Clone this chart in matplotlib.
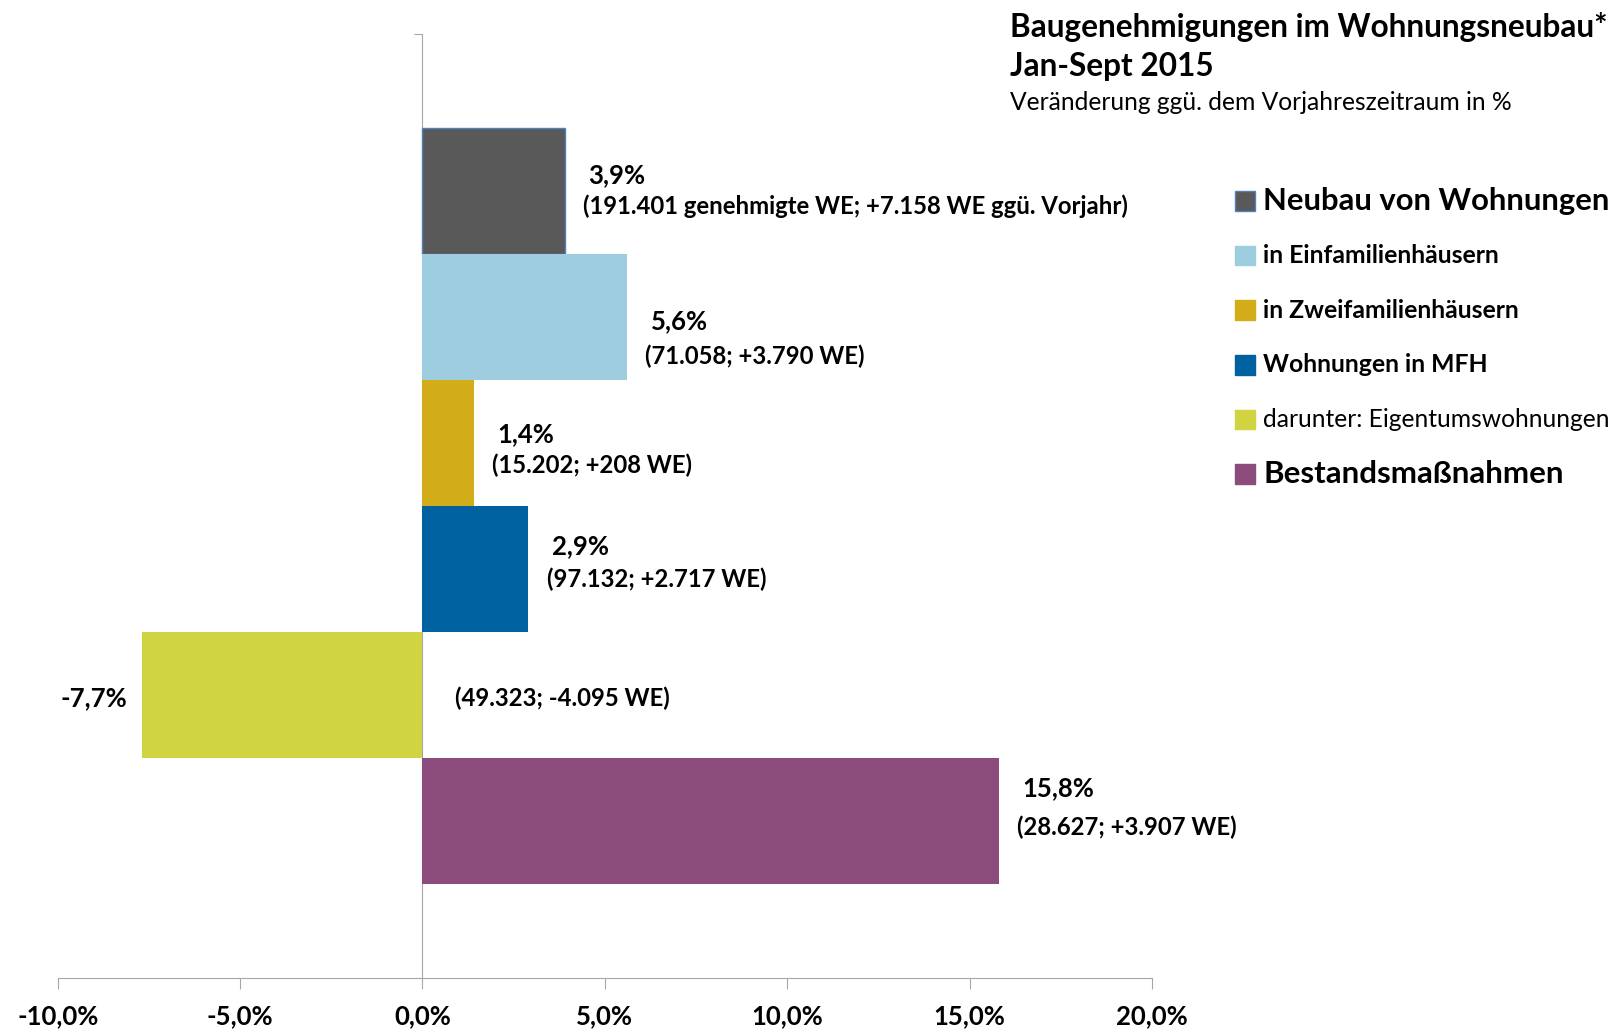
import matplotlib.pyplot as plt
from matplotlib.patches import Rectangle
from matplotlib.ticker import FuncFormatter, MultipleLocator

# Daten: Veränderung ggü. Vorjahreszeitraum in %
categories = ["Neubau von Wohnungen", "in Einfamilienhäusern", "in Zweifamilienhäusern",
              "Wohnungen in MFH", "darunter: Eigentumswohnungen", "Bestandsmaßnahmen"]
changes = [3.9, 5.6, 1.4, 2.9, -7.7, 15.8]
details = ["(191.401 genehmigte WE; +7.158 WE ggü. Vorjahr)", "(71.058; +3.790 WE)",
           "(15.202; +208 WE)", "(97.132; +2.717 WE)", "(49.323; -4.095 WE)",
           "(28.627; +3.907 WE)"]
colors = ["#595959", "#9fcde0", "#d3ac19", "#0061a0", "#cfd440", "#8b4c7c"]

# Stil der Beschriftungen (Legende)
legend_size = [22.3, 17.8, 17.8, 17.8, 17.7, 22.5]
legend_weight = ["bold", "bold", "bold", "bold", "normal", "bold"]
# vertikale Verschiebung der Wertelabels (Zeile 1 / Zeile 2)
dy1 = [0.13, -0.03, 0.07, 0.18, -0.03, 0.26]
dy2 = [-0.12, -0.31, -0.18, -0.08, -0.03, -0.05]

plt.rcParams['font.family'] = ['Lato', 'DejaVu Sans']

fig = plt.figure(figsize=(16.16, 10.30), dpi=100)
ax = fig.add_axes([0.0357, 0.0505, 0.6772, 0.9165])

ypos = list(range(len(categories) - 1, -1, -1))
bars = ax.barh(ypos, changes, height=1.0, color=colors, zorder=2)
bars[0].set_edgecolor("#4f81bd")
bars[0].set_linewidth(1.0)

ax.set_xlim(-10, 20)
ax.set_ylim(-1.25, 6.25)

# Achsen wie in Excel
for s in ["top", "right"]:
    ax.spines[s].set_visible(False)
ax.spines["left"].set_position(("data", 0))
ax.spines["left"].set_color("#a6a6a6")
ax.spines["bottom"].set_color("#a6a6a6")
ax.spines["left"].set_zorder(1)
ax.set_yticks([6.25])
ax.set_yticklabels([])
ax.tick_params(axis="y", direction="out", length=6, color="#a6a6a6")

ax.xaxis.set_major_locator(MultipleLocator(5))
ax.xaxis.set_major_formatter(FuncFormatter(lambda v, p: f"{v:.1f}%".replace(".", ",")))
ax.tick_params(axis="x", direction="out", length=8, color="#a6a6a6", pad=11,
               labelsize=18.5)
for lab in ax.get_xticklabels():
    lab.set_fontweight("bold")

# Wertelabels
for i, (y, v, d) in enumerate(zip(ypos, changes, details)):
    pct = f"{v:.1f}%".replace(".", ",")
    if v >= 0:
        ax.text(v + 0.65, y + dy1[i], pct, fontsize=18.5, fontweight="bold",
                ha="left", va="center")
        ax.text(v + 0.5, y + dy2[i], d, fontsize=17.2, fontweight="bold",
                ha="left", va="center")
    else:
        ax.text(v - 0.4, y + dy1[i], pct, fontsize=18.5, fontweight="bold",
                ha="right", va="center")
        ax.text(0.9, y + dy2[i], d, fontsize=17.2, fontweight="bold",
                ha="left", va="center")

# Titel
fig.text(0.625, 0.974, "Baugenehmigungen im Wohnungsneubau*", fontsize=22.7,
         fontweight="bold", ha="left", va="center")
fig.text(0.625, 0.935, "Jan-Sept 2015", fontsize=22.7, fontweight="bold",
         ha="left", va="center")
fig.text(0.625, 0.900, "Veränderung ggü. dem Vorjahreszeitraum in %", fontsize=17.7,
         ha="left", va="center")

# Legende
sq = 19.6
for i, (c, col) in enumerate(zip(categories, colors)):
    yc = 201 + i * 54.6
    rect = Rectangle((1235 / 1616, 1 - (yc + sq / 2) / 1030), sq / 1616, sq / 1030,
                     transform=fig.transFigure, facecolor=col,
                     edgecolor="#4f81bd" if i == 0 else col, linewidth=1.0)
    fig.add_artist(rect)
    fig.text(1263 / 1616, 1 - yc / 1030, c, fontsize=legend_size[i],
             fontweight=legend_weight[i], ha="left", va="center")

fig.savefig("out.png", dpi=100)
